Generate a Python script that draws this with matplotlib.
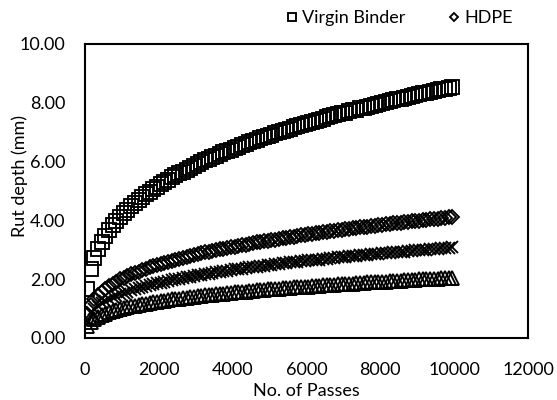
import matplotlib
matplotlib.use("Agg")
import matplotlib.pyplot as plt

passes = list(range(50, 10000, 100))

virgin = [1.66,2.33,2.72,3.03,3.27,3.48,3.67,3.83,3.98,4.12,
4.25,4.37,4.49,4.59,4.70,4.80,4.89,4.98,5.07,5.15,
5.23,5.31,5.38,5.46,5.53,5.60,5.66,5.73,5.79,5.85,
5.92,5.98,6.04,6.09,6.15,6.20,6.26,6.31,6.36,6.41,
6.46,6.51,6.56,6.61,6.65,6.70,6.75,6.79,6.83,6.88,
6.92,6.96,7.00,7.04,7.08,7.12,7.16,7.21,7.24,7.28,
7.32,7.35,7.39,7.43,7.46,7.50,7.54,7.57,7.61,7.64,
7.67,7.71,7.74,7.77,7.81,7.84,7.87,7.90,7.93,7.96,
8.00,8.02,8.06,8.09,8.12,8.14,8.17,8.20,8.23,8.26,
8.29,8.32,8.35,8.37,8.40,8.43,8.46,8.48,8.51,8.54]

hdpe = [0.80,1.12,1.31,1.46,1.58,1.68,1.77,1.85,1.92,1.99,
2.05,2.11,2.16,2.21,2.26,2.31,2.36,2.40,2.44,2.48,
2.52,2.56,2.59,2.63,2.66,2.70,2.73,2.76,2.79,2.82,
2.85,2.88,2.91,2.94,2.96,2.99,3.02,3.04,3.06,3.09,
3.11,3.14,3.16,3.18,3.21,3.23,3.25,3.27,3.29,3.31,
3.33,3.35,3.37,3.39,3.41,3.43,3.45,3.47,3.49,3.51,
3.53,3.54,3.56,3.58,3.60,3.61,3.63,3.65,3.67,3.68,
3.70,3.71,3.73,3.74,3.76,3.78,3.79,3.81,3.82,3.84,
3.85,3.87,3.88,3.90,3.91,3.92,3.94,3.95,3.97,3.98,
3.99,4.01,4.02,4.04,4.05,4.06,4.07,4.09,4.10,4.11]

series3 = [0.60,0.84,0.98,1.09,1.18,1.25,1.32,1.38,1.43,1.48,
1.53,1.57,1.62,1.66,1.69,1.73,1.76,1.79,1.83,1.86,
1.88,1.91,1.94,1.97,1.99,2.02,2.04,2.06,2.09,2.11,
2.13,2.15,2.17,2.19,2.21,2.23,2.25,2.27,2.29,2.31,
2.33,2.35,2.36,2.38,2.40,2.41,2.43,2.44,2.46,2.48,
2.49,2.51,2.52,2.54,2.55,2.57,2.58,2.60,2.61,2.62,
2.64,2.65,2.66,2.67,2.69,2.70,2.72,2.73,2.74,2.75,
2.76,2.78,2.79,2.80,2.81,2.82,2.83,2.85,2.86,2.87,
2.88,2.89,2.90,2.91,2.92,2.93,2.94,2.95,2.97,2.98,
2.99,3.00,3.01,3.02,3.03,3.04,3.05,3.06,3.07,3.08]

series4 = [0.40,0.56,0.65,0.73,0.78,0.83,0.88,0.92,0.95,0.99,
1.02,1.05,1.08,1.10,1.13,1.15,1.17,1.19,1.22,1.23,
1.25,1.27,1.29,1.31,1.33,1.34,1.36,1.37,1.39,1.40,
1.42,1.43,1.45,1.46,1.47,1.49,1.50,1.51,1.52,1.54,
1.55,1.56,1.57,1.58,1.59,1.61,1.62,1.63,1.64,1.65,
1.66,1.67,1.68,1.69,1.70,1.71,1.72,1.73,1.74,1.75,
1.75,1.76,1.77,1.78,1.79,1.80,1.81,1.81,1.82,1.83,
1.84,1.85,1.85,1.86,1.87,1.88,1.89,1.89,1.90,1.91,
1.92,1.92,1.93,1.94,1.95,1.95,1.96,1.97,1.97,1.98,
1.99,1.99,2.00,2.01,2.01,2.02,2.03,2.03,2.04,2.05]

x_ticks = [0, 2000, 4000, 6000, 8000, 10000, 12000]
y_ticks = [0, 2, 4, 6, 8, 10]

plt.rcParams['font.family'] = ['Lato', 'DejaVu Sans']
FS = 13
fig = plt.figure(figsize=(5.57, 4.0), dpi=100)
ax = fig.add_axes([85/557, 62/400, 443/557, 294/400])

kw = dict(linestyle='none', markerfacecolor='none', markeredgecolor='black', markeredgewidth=1.35)
ax.plot(passes, series4, marker='^', markersize=10, **kw)
ax.plot(passes, series3, marker='x', markersize=9, color='black', markeredgewidth=1.35, linestyle='none')
ax.plot(passes, hdpe, marker='D', markersize=7.5, label='HDPE', **kw)
ax.plot(passes, virgin, marker='s', markersize=10.5, label='Virgin Binder', **kw)

ax.set_xlim(0, 12000)
ax.set_ylim(0, 10)
ax.set_xticks(x_ticks)
ax.set_yticks(y_ticks)
ax.set_yticklabels([f"{v:.2f}" for v in y_ticks])
ax.tick_params(length=0, labelsize=FS)
ax.tick_params(axis='x', pad=17)
ax.tick_params(axis='y', pad=14)
for s in ax.spines.values():
    s.set_linewidth(1.5)
ax.set_xlabel('No. of Passes', fontsize=FS, labelpad=4)
ax.set_ylabel('Rut depth (mm)', fontsize=FS)
ax.yaxis.set_label_coords(-0.129, 0.55)

h, l = ax.get_legend_handles_labels()
fig.legend(h[::-1], l[::-1], loc='upper right', bbox_to_anchor=(0.95, 1.015), ncol=2,
           frameon=False, fontsize=FS, markerscale=0.6, handlelength=0.7,
           handletextpad=0.25, columnspacing=2.3)

fig.savefig('out.png', dpi=100)
